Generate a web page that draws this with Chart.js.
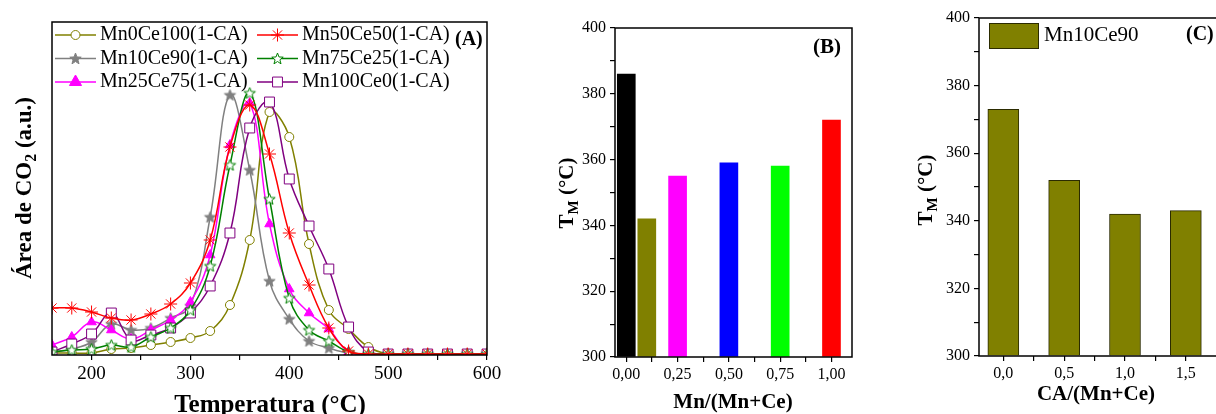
<!DOCTYPE html>
<html>
<head>
<meta charset="utf-8">
<script src="https://cdn.jsdelivr.net/npm/chart.js"></script>
<style>
  html, body { margin: 0; padding: 0; background: #fff; overflow: hidden; width: 1216px; height: 414px; }
  canvas { position: absolute; top: 0; }
</style>
</head>
<body>
<canvas id="chartA" width="505" height="430" style="left:0px"></canvas>
<canvas id="chartB" width="340" height="414" style="left:530px"></canvas>
<canvas id="chartC" width="420" height="414" style="left:890px"></canvas>
<script>
// ---- data ----
const temps = [160, 180, 200, 220, 240, 260, 280, 300, 320, 340, 360, 380, 400, 420, 440, 460, 480, 500, 520, 540, 560, 580, 600];
const mn0ce100 = [1, 1, 1, 5, 6, 9, 12, 16, 23, 49, 114, 242, 217, 110, 44, 25, 7, 0, 0, 0, 0, 0, 0];
const mn10ce90 = [2, 5, 12, 30, 24, 26, 36, 48, 137, 259, 184, 73, 35, 13, 6, 1, 0, 0, 0, 0, 0, 0, 0];
const mn25ce75 = [9, 17, 32, 24, 15, 24, 34, 52, 99, 209, 251, 130, 65, 41, 25, 2, 0, 0, 0, 0, 0, 0, 0];
const mn50ce50 = [46, 46, 42, 36, 34, 40, 50, 71, 114, 207, 249, 200, 121, 69, 26, 3, 0, 0, 0, 0, 0, 0, 0];
const mn75ce25 = [2, 4, 5, 9, 7, 17, 26, 44, 88, 189, 261, 155, 56, 24, 13, 2, 0, 0, 0, 0, 0, 0, 0];
const mn100ce0 = [2, 10, 20, 41, 14, 19, 26, 41, 68, 121, 226, 252, 175, 128, 85, 27, 2, 0, 0, 0, 0, 0, 0];

const mnRatio = [0, 0.1, 0.25, 0.5, 0.75, 1.0];
const tmRatio = [386, 342, 355, 359, 358, 372];
const ratioColors = ['#000000', '#808000', '#ff00ff', '#0000ff', '#00ff00', '#ff0000'];

const caRatio = [0, 0.5, 1.0, 1.5];
const tmCA = [373, 352, 342, 343];

const FAMILY = "'Liberation Serif', 'Times New Roman', serif";
Chart.defaults.font.family = FAMILY;
Chart.defaults.color = '#000';
Chart.defaults.animation = false;

// 5-pointed star markers
function starImg(fill, stroke, r) {
  const c = document.createElement('canvas');
  const s = Math.ceil(2 * r + 3);
  c.width = c.height = s;
  const g = c.getContext('2d');
  g.beginPath();
  for (let i = 0; i < 10; i++) {
    const a = -Math.PI / 2 + i * Math.PI / 5;
    const rr = i % 2 ? r * 0.42 : r;
    g.lineTo(s / 2 + rr * Math.cos(a), s / 2 + 0.5 + rr * Math.sin(a));
  }
  g.closePath();
  g.fillStyle = fill;
  g.fill();
  g.strokeStyle = stroke;
  g.lineWidth = 1;
  g.stroke();
  return c;
}
const grayStar = starImg('#808080', '#808080', 6);
const greenStar = starImg('#ffffff', '#008000', 6);

// draw a line of text made of parts (some subscript)
function drawParts(ctx, item) {
  ctx.save();
  ctx.translate(item.x, item.y);
  if (item.rot) ctx.rotate(-Math.PI / 2);
  const w = item.bold ? 'bold ' : '';
  const fonts = item.parts.map(p => w + (p.sub ? Math.round(item.size * 0.7) : item.size) + 'px ' + FAMILY);
  const widths = item.parts.map((p, i) => { ctx.font = fonts[i]; return ctx.measureText(p.t).width; });
  const total = widths.reduce((a, b) => a + b, 0);
  let x0 = item.align === 'left' ? 0 : -total / 2;
  ctx.textBaseline = 'middle';
  ctx.fillStyle = '#000';
  item.parts.forEach((p, i) => {
    ctx.font = fonts[i];
    ctx.fillText(p.t, x0, p.sub ? item.size * 0.28 : 0);
    x0 += widths[i];
  });
  ctx.restore();
}

const frame = {
  id: 'frame',
  afterDraw(chart, args, opts) {
    const { ctx, chartArea: a } = chart;
    ctx.save();
    ctx.strokeStyle = '#000';
    ctx.lineWidth = 1.5;
    ctx.strokeRect(a.left, a.top, a.right - a.left, a.bottom - a.top);
    ctx.restore();
    (opts.texts || []).forEach(t => drawParts(ctx, t));
    if (opts.extra) opts.extra(chart);
  }
};
Chart.register(frame);

const lineDs = (label, values, color, style, radius, fill, order) => ({
  label: label,
  data: temps.map((t, i) => ({ x: t, y: values[i] })),
  borderColor: color,
  backgroundColor: fill,
  borderWidth: 1.5,
  tension: 0.4,
  pointStyle: style,
  pointRadius: radius,
  pointBorderColor: color,
  pointBackgroundColor: fill,
  pointBorderWidth: 1,
  order: order
});

// ---- (A) ----
const seriesA = [
  lineDs('Mn0Ce100(1-CA)', mn0ce100, '#808000', 'circle', 4.5, '#ffffff', 6),
  lineDs('Mn10Ce90(1-CA)', mn10ce90, '#808080', grayStar, 6, '#808080', 5),
  lineDs('Mn25Ce75(1-CA)', mn25ce75, '#ff00ff', 'triangle', 5.5, '#ff00ff', 4),
  lineDs('Mn50Ce50(1-CA)', mn50ce50, '#ff0000', 'star', 6.5, '#ff0000', 1),
  lineDs('Mn75Ce25(1-CA)', mn75ce25, '#008000', greenStar, 6, '#ffffff', 2),
  lineDs('Mn100Ce0(1-CA)', mn100ce0, '#800080', 'rect', 7, '#ffffff', 3)
];

function legendA(chart) {
  const ctx = chart.ctx;
  const cols = [55, 257];
  const rows = [35, 58.5, 82];
  chart.data.datasets.forEach((ds, i) => {
    const x = cols[Math.floor(i / 3)];
    const y = rows[i % 3];
    ctx.save();
    ctx.strokeStyle = ds.borderColor;
    ctx.lineWidth = 1.5;
    ctx.beginPath();
    ctx.moveTo(x, y);
    ctx.lineTo(x + 41, y);
    ctx.stroke();
    ctx.fillStyle = ds.pointBackgroundColor;
    ctx.strokeStyle = ds.pointBorderColor;
    ctx.lineWidth = 1;
    const r = ds.pointStyle === 'triangle' ? 7 : ds.pointRadius;
    Chart.helpers.drawPoint(ctx, { pointStyle: ds.pointStyle, radius: r, rotation: 0, borderWidth: 1 }, x + 20.5, y);
    ctx.fillStyle = '#000';
    ctx.font = '20px ' + FAMILY;
    ctx.textBaseline = 'middle';
    ctx.fillText(ds.label, x + 45, y);
    ctx.restore();
  });
}

new Chart(document.getElementById('chartA'), {
  type: 'line',
  data: { datasets: seriesA },
  options: {
    responsive: false,
    layout: { padding: { left: 0, top: 22, right: 18, bottom: 45 } },
    plugins: {
      legend: { display: false },
      tooltip: { enabled: false },
      frame: {
        texts: [
          { x: 25, y: 188, rot: true, bold: true, size: 23, parts: [{ t: 'Área de CO' }, { t: '2', sub: true }, { t: ' (a.u.)' }] },
          { x: 270, y: 406, bold: true, size: 25, parts: [{ t: 'Temperatura (°C)' }] },
          { x: 455, y: 40, bold: true, size: 20, align: 'left', parts: [{ t: '(A)' }] }
        ],
        extra: legendA
      }
    },
    scales: {
      x: {
        type: 'linear', min: 160, max: 600,
        afterFit: s => { s.height = 30; },
        ticks: { stepSize: 50, includeBounds: false, autoSkip: false, maxRotation: 0, padding: 3, font: { size: 19 },
          callback: v => (v % 100 === 0 ? String(v) : '') },
        grid: { drawOnChartArea: false, tickLength: 5, color: '#000', lineWidth: 1.2 },
        border: { display: false }
      },
      y: {
        min: -1, max: 332,
        afterFit: s => { s.width = 52; },
        ticks: { display: false },
        grid: { display: false },
        border: { display: false }
      }
    }
  }
});

// ---- (B) ----
const commaFmt = (v, step, dec) => {
  const k = v / step;
  return Math.abs(k - Math.round(k)) < 1e-9 ? v.toFixed(dec).replace('.', ',') : '';
};

new Chart(document.getElementById('chartB'), {
  type: 'bar',
  data: {
    datasets: [{
      data: mnRatio.map((x, i) => ({ x: x, y: tmRatio[i] })),
      backgroundColor: ratioColors,
      borderWidth: 0,
      barThickness: 18,
      base: 300
    }]
  },
  options: {
    responsive: false,
    layout: { padding: { left: 0, top: 28, right: 18, bottom: 27 } },
    plugins: {
      legend: { display: false },
      tooltip: { enabled: false },
      frame: {
        texts: [
          { x: 38, y: 193, rot: true, bold: true, size: 21, parts: [{ t: 'T' }, { t: 'M', sub: true }, { t: ' (°C)' }] },
          { x: 203, y: 403, bold: true, size: 21, parts: [{ t: 'Mn/(Mn+Ce)' }] },
          { x: 297, y: 48, bold: true, size: 21, parts: [{ t: '(B)' }] }
        ]
      }
    },
    scales: {
      x: {
        type: 'linear', min: -0.055, max: 1.1, offset: false,
        afterFit: s => { s.height = 30; },
        ticks: { stepSize: 0.125, includeBounds: false, autoSkip: false, maxRotation: 0, padding: 3, font: { size: 16 },
          callback: v => commaFmt(v, 0.25, 2) },
        grid: { drawOnChartArea: false, tickLength: 5, color: '#000', lineWidth: 1.2, offset: false },
        border: { display: false }
      },
      y: {
        min: 300, max: 400,
        afterFit: s => { s.width = 85; },
        ticks: { stepSize: 10, autoSkip: false, padding: 4, font: { size: 16 },
          callback: v => (v % 20 === 0 ? String(v) : '') },
        grid: { drawOnChartArea: false, tickLength: 5, color: '#000', lineWidth: 1.2 },
        border: { display: false }
      }
    }
  }
});

// ---- (C) ----
function legendC(chart) {
  const ctx = chart.ctx;
  ctx.save();
  ctx.fillStyle = '#808000';
  ctx.strokeStyle = '#2b2b00';
  ctx.lineWidth = 1;
  ctx.fillRect(99.5, 23.5, 49, 25);
  ctx.strokeRect(99.5, 23.5, 49, 25);
  ctx.fillStyle = '#000';
  ctx.font = '21px ' + FAMILY;
  ctx.textBaseline = 'middle';
  ctx.fillText('Mn10Ce90', 154, 35);
  ctx.restore();
}

new Chart(document.getElementById('chartC'), {
  type: 'bar',
  data: {
    datasets: [{
      label: 'Mn10Ce90',
      data: caRatio.map((x, i) => ({ x: x, y: tmCA[i] })),
      backgroundColor: '#808000',
      borderColor: '#2b2b00',
      borderWidth: 1,
      barThickness: 31,
      base: 300
    }]
  },
  options: {
    responsive: false,
    layout: { padding: { left: 0, top: 18, right: 39, bottom: 28 } },
    plugins: {
      legend: { display: false },
      tooltip: { enabled: false },
      frame: {
        texts: [
          { x: 37, y: 190, rot: true, bold: true, size: 21, parts: [{ t: 'T' }, { t: 'M', sub: true }, { t: ' (°C)' }] },
          { x: 206, y: 395, bold: true, size: 21, parts: [{ t: 'CA/(Mn+Ce)' }] },
          { x: 296, y: 35, bold: true, size: 20, align: 'left', parts: [{ t: '(C)' }] }
        ],
        extra: legendC
      }
    },
    scales: {
      x: {
        type: 'linear', min: -0.2, max: 2.2, offset: false,
        afterFit: s => { s.height = 30; },
        ticks: { stepSize: 0.25, includeBounds: false, autoSkip: false, maxRotation: 0, padding: 3, font: { size: 16 },
          callback: v => commaFmt(v, 0.5, 1) },
        grid: { drawOnChartArea: false, tickLength: 5, color: '#000', lineWidth: 1.2, offset: false },
        border: { display: false }
      },
      y: {
        min: 300, max: 400,
        afterFit: s => { s.width = 89; },
        ticks: { stepSize: 10, autoSkip: false, padding: 4, font: { size: 16 },
          callback: v => (v % 20 === 0 ? String(v) : '') },
        grid: { drawOnChartArea: false, tickLength: 5, color: '#000', lineWidth: 1.2 },
        border: { display: false }
      }
    }
  }
});
</script>
</body>
</html>
